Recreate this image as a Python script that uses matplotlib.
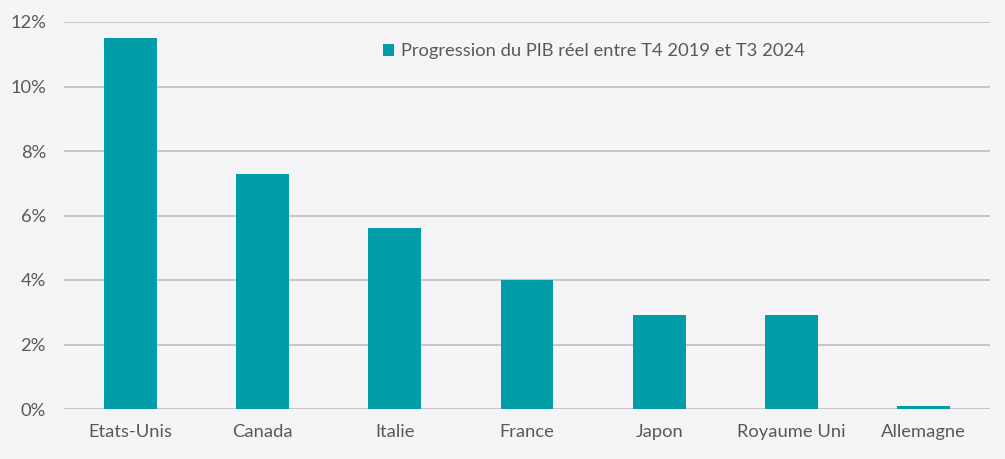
import matplotlib
matplotlib.use("Agg")
import matplotlib.pyplot as plt
from matplotlib.ticker import FuncFormatter, MultipleLocator

categories = ["Etats-Unis", "Canada", "Italie", "France", "Japon", "Royaume Uni", "Allemagne"]
values = [11.5, 7.3, 5.6, 4.0, 2.9, 2.9, 0.1]
series_name = "Progression du PIB réel entre T4 2019 et T3 2024"

plt.rcParams['font.family'] = ['Lato', 'DejaVu Sans']
bg = "#f5f5f7"
txt = "#595959"
bar_color = "#009da8"
fs = 13.2

fig = plt.figure(figsize=(10.05, 4.59), dpi=100, facecolor=bg)
W, H = 1005, 459
ax = fig.add_axes([64 / W, (H - 409) / H, (990 - 64) / W, (409 - 22) / H], facecolor=bg)

x = range(len(categories))
ax.bar(x, values, width=0.40, color=bar_color, label=series_name, zorder=3)
ax.set_xlim(-0.5, len(categories) - 0.5)
ax.set_ylim(0, 12)
ax.yaxis.set_major_locator(MultipleLocator(2))
ax.yaxis.set_major_formatter(FuncFormatter(lambda v, p: f"{v:.0f}%"))
ax.grid(axis='y', color="#c0c0c0", linewidth=1.2, zorder=0)
ax.set_xticks(list(x))
ax.set_xticklabels(categories)
for s in ax.spines.values():
    s.set_visible(False)
ax.tick_params(axis='both', length=0, colors=txt, labelsize=fs)
ax.tick_params(axis='x', pad=11)
ax.tick_params(axis='y', pad=13)

leg = ax.legend(loc='upper left', bbox_to_anchor=((376 - 64) / (990 - 64), 1.0 - 14 / 387),
                frameon=False, fontsize=fs, handlelength=0.6, handleheight=0.6,
                handletextpad=0.35, borderaxespad=0)
for t in leg.get_texts():
    t.set_color(txt)

fig.savefig("out.png", dpi=100, facecolor=bg)
